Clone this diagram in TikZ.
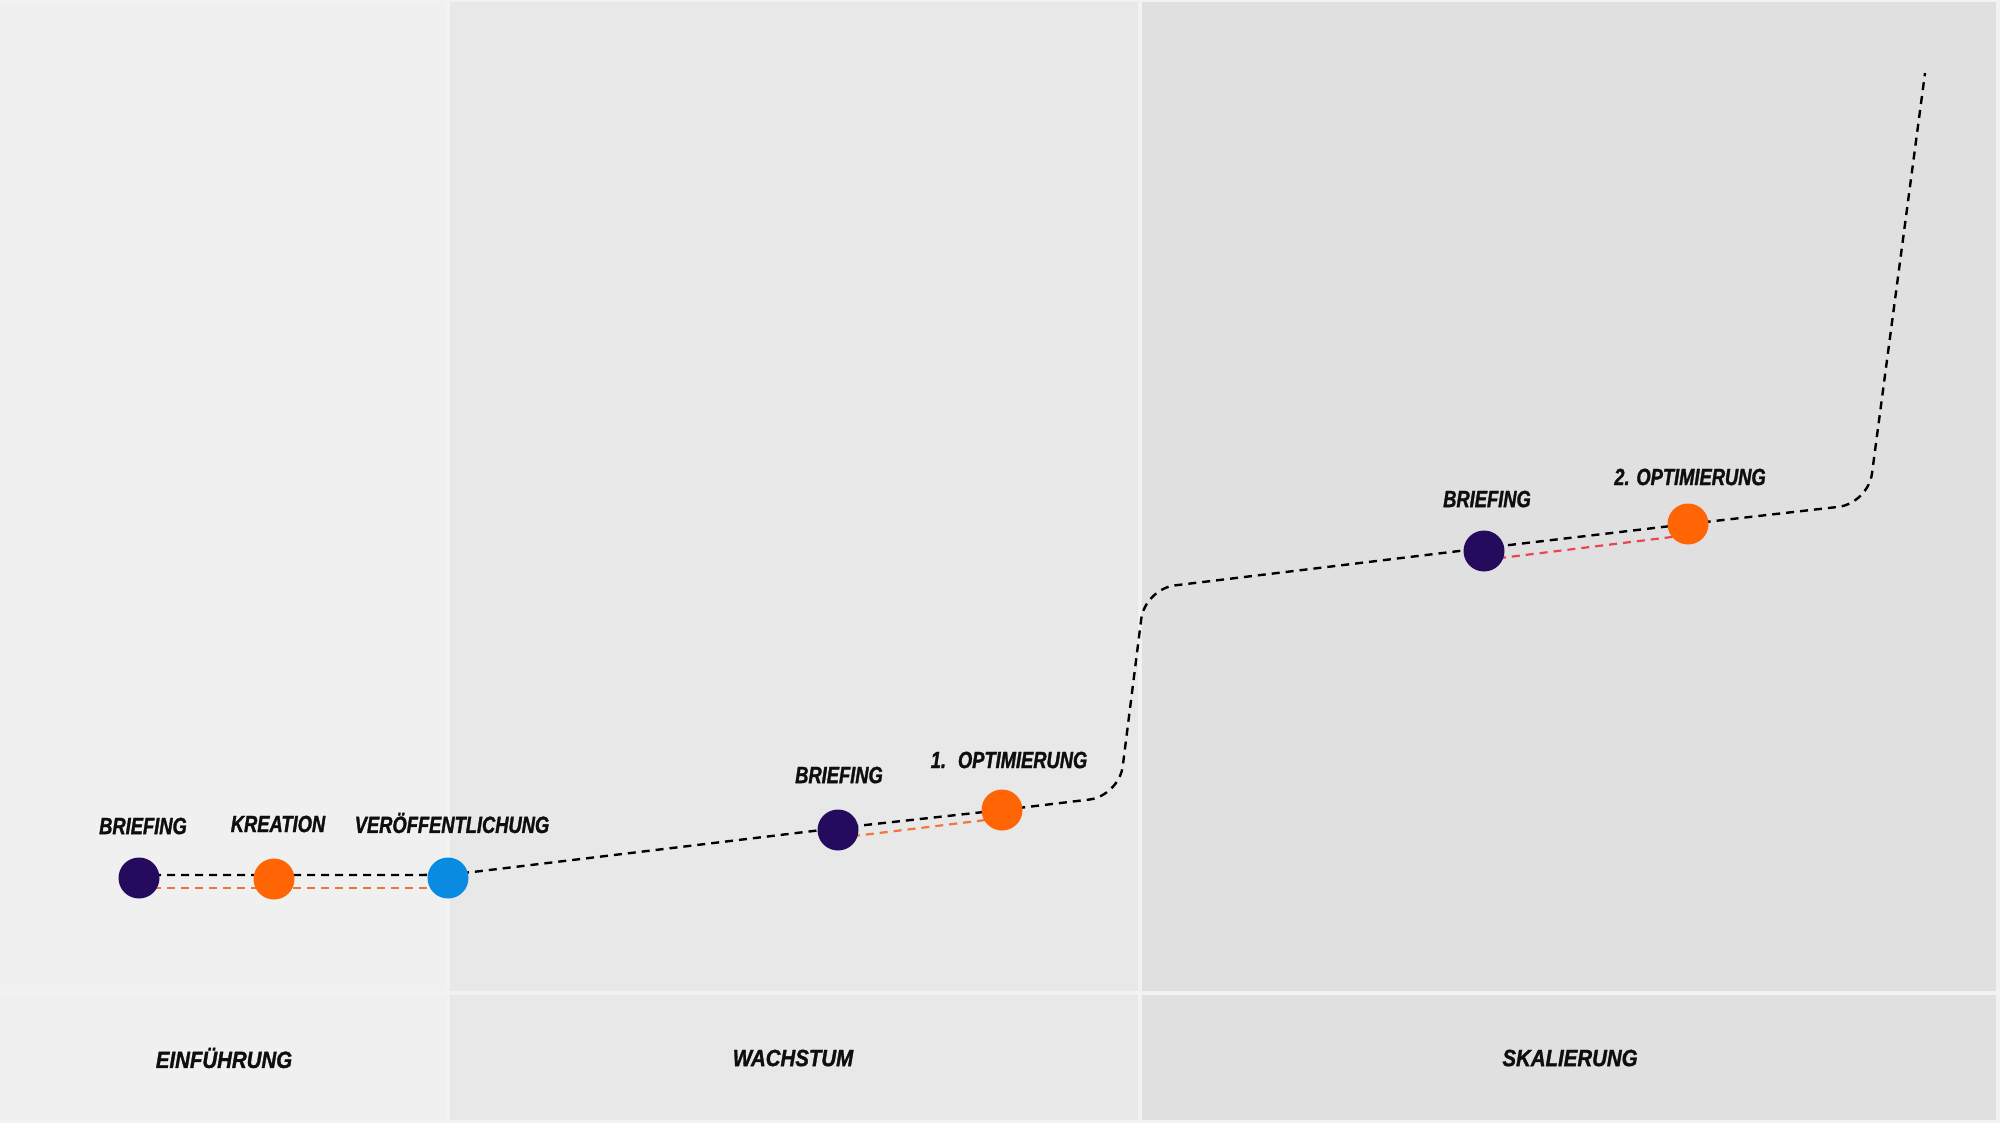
\documentclass[tikz,border=0pt]{standalone}
\usepackage{fontspec}
\newfontfamily\lblfont{Liberation Sans}[FakeStretch=0.78,FakeBold=1.3]
\newfontfamily\phasefont{Liberation Sans}[FakeStretch=0.87,FakeBold=1.3]
\definecolor{gapc}{HTML}{F2F2F2}
\definecolor{colA}{HTML}{F0F0F0}
\definecolor{colB}{HTML}{E8E8E8}
\definecolor{colC}{HTML}{E0E0E0}
\definecolor{navy}{HTML}{250B5E}
\definecolor{orng}{HTML}{FF6405}
\definecolor{blu}{HTML}{0A8BE2}
\definecolor{orline}{HTML}{F0763A}
\definecolor{redline}{HTML}{E8474F}
\definecolor{txt}{HTML}{0E0E0E}
\tikzset{
  dot/.style={circle,minimum size=41pt,inner sep=0pt},
  lbl/.style={font=\lblfont\bfseries\itshape\fontsize{23.5}{24}\selectfont,text=txt,inner sep=0pt,anchor=center},
  phase/.style={font=\phasefont\bfseries\itshape\fontsize{23.5}{24}\selectfont,text=txt,inner sep=0pt,anchor=center},
  blkdash/.style={draw=black,line width=2.4pt,dash pattern=on 8pt off 6pt},
  coldash/.style={line width=2.2pt,dash pattern=on 8pt off 6pt}
}
\begin{document}
\begin{tikzpicture}[x=1pt,y=-1pt]
\useasboundingbox (0,0) rectangle (2000,1123);
% background and cells
\fill[gapc] (0,0) rectangle (2000,1123);
\fill[colA] (0,2) rectangle (446,991);
\fill[colA] (0,995) rectangle (446,1120);
\fill[colB] (450,2) rectangle (1138,991);
\fill[colB] (450,995) rectangle (1138,1120);
\fill[colC] (1142,2) rectangle (1996,991);
\fill[colC] (1142,995) rectangle (1996,1120);

% dot positions
\coordinate (pb1) at (139,878);
\coordinate (pk) at (274,879);
\coordinate (pv) at (448,878);
\coordinate (pb2) at (838,830);
\coordinate (po1) at (1002,810);
\coordinate (pb3) at (1484,551);
\coordinate (po2) at (1688,524);
% curve corners
\coordinate (c1) at (1119,796);
\coordinate (c2) at (1145,589);
\coordinate (c3) at (1868,503.5);
\coordinate (cend) at (1925,73);

% coloured dashed lines
\draw[coldash,draw=orline] ([yshift=-10pt]pb1) -- ([yshift=-10pt]pv);
\draw[coldash,draw=orline] ([yshift=-8pt]pb2) -- ([yshift=-8pt]po1);
\draw[coldash,draw=redline] ([yshift=-9pt]pb3) -- ([yshift=-11pt]po2);

% main black dashed curve
\draw[blkdash,rounded corners=30pt] ([yshift=3pt]pb1) -- ([yshift=3pt]pv) -- ([yshift=2pt]pb2) -- (po1) -- (c1) -- (c2) -- ([yshift=3pt]pb3) -- (po2) -- (c3) -- (cend);

% dots
\node[dot,fill=navy] (b1) at (pb1) {};
\node[dot,fill=orng] (k) at (pk) {};
\node[dot,fill=blu] (v) at (pv) {};
\node[dot,fill=navy] (b2) at (pb2) {};
\node[dot,fill=orng] (o1) at (po1) {};
\node[dot,fill=navy] (b3) at (pb3) {};
\node[dot,fill=orng] (o2) at (po2) {};

% labels
\node[lbl] (lb1) at (143,826) {BRIEFING};
\node[lbl] (lk) at (278,824) {KREATION};
\node[lbl] (lv) at (452,823) {VERÖFFENTLICHUNG};
\node[lbl] (lb2) at (839,775) {BRIEFING};
\node[lbl] (lo1) at (1009,760) {1.~ OPTIMIERUNG};
\node[lbl] (lb3) at (1487,499) {BRIEFING};
\node[lbl] (lo2) at (1690,477) {2. OPTIMIERUNG};

\node[phase] (p1) at (224,1058) {EINFÜHRUNG};
\node[phase] (p2) at (793,1058) {WACHSTUM};
\node[phase] (p3) at (1570,1058) {SKALIERUNG};
\end{tikzpicture}
\end{document}
